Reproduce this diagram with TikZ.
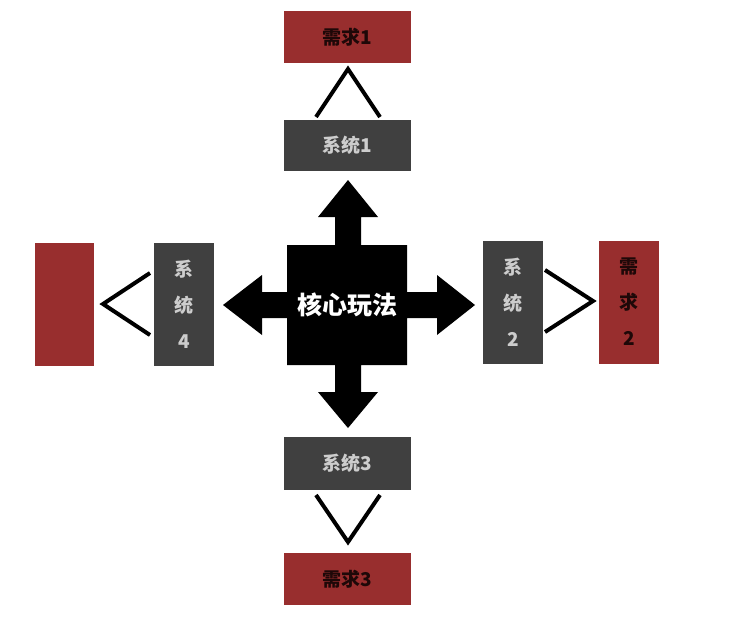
\documentclass[tikz,border=0pt]{standalone}
\usepackage{fontspec}
\newfontfamily\cjk{Noto Sans CJK SC}
\definecolor{redbox}{RGB}{152,46,46}
\definecolor{graybox}{RGB}{64,64,64}
\definecolor{graytext}{RGB}{205,205,205}
\definecolor{redtext}{RGB}{30,8,8}
\begin{document}
\begin{tikzpicture}[x=1pt,y=-1pt,
  box/.style={rectangle,inner sep=0pt,outer sep=0pt,font=\cjk\bfseries\fontsize{19}{36}\selectfont,align=center},
  need/.style={box,fill=redbox,text=redtext},
  sys/.style={box,fill=graybox,text=graytext},
  chev/.style={draw=black,line width=4pt,miter limit=10,line join=miter}]
\useasboundingbox (0,0) rectangle (733,629);
\fill[white] (0,0) rectangle (733,629);
% boxes
\node[need,minimum width=127pt,minimum height=52pt] (n1) at (347.5,37) {需求1};
\node[sys,minimum width=127pt,minimum height=51pt] (s1) at (347.5,145.5) {系统1};
\node[sys,minimum width=127pt,minimum height=53pt] (s3) at (347.5,463.5) {系统3};
\node[need,minimum width=127pt,minimum height=52pt] (n3) at (347.5,579) {需求3};
\node[sys,minimum width=60pt,minimum height=123pt] (s2) at (513,302) {系\\统\\2};
\node[need,minimum width=60pt,minimum height=123pt] (n2) at (629,302) {需\\求\\2};
\node[sys,minimum width=60pt,minimum height=123pt] (s4) at (184,304.5) {系\\统\\4};
\node[need,minimum width=59pt,minimum height=123pt] (n4) at (64.5,304.5) {};
% core with arrows
\fill[black] (287,245) -- (335,245) -- (335,217) -- (318,217) -- (348,180) -- (378,217) -- (361,217) -- (361,245)
  -- (407,245) -- (407,292) -- (437,292) -- (437,275) -- (475,305) -- (437,335) -- (437,318) -- (407,318)
  -- (407,365) -- (361,365) -- (361,392) -- (378,392) -- (348,428) -- (318,392) -- (335,392) -- (335,365)
  -- (287,365) -- (287,318) -- (262,318) -- (262,335) -- (223,305) -- (262,275) -- (262,292) -- (287,292)
  -- cycle;
\node[rectangle,minimum size=120pt,inner sep=0pt,text=white,font=\cjk\bfseries\fontsize{25}{28}\selectfont] (core) at (347,305) {核心玩法};
% chevrons
\draw[chev] (316,117) -- (348,69) -- (380,117);
\draw[chev] (545,270) -- (593,301) -- (545,332);
\draw[chev] (316,495) -- (348,542) -- (380,495);
\draw[chev] (150,273) -- (103,304) -- (150,335);
\end{tikzpicture}
\end{document}
